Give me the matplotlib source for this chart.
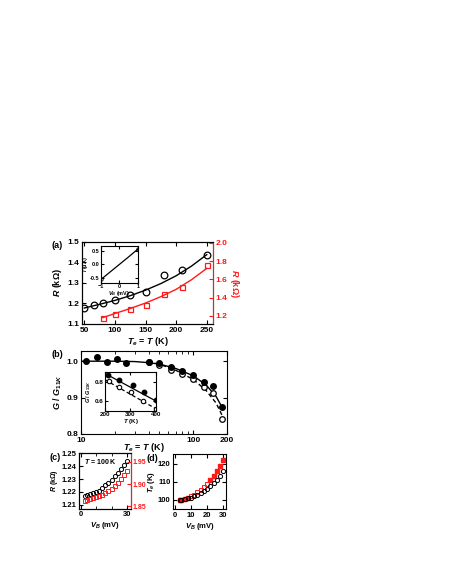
import matplotlib
matplotlib.use('Agg')
import matplotlib.pyplot as plt
from matplotlib.ticker import LogLocator, NullFormatter, FixedLocator

plt.rcParams['font.family'] = ['Liberation Sans', 'DejaVu Sans']
plt.rcParams['font.weight'] = 'bold'
plt.rcParams['axes.labelweight'] = 'bold'
plt.rcParams['mathtext.fontset'] = 'custom'
plt.rcParams['mathtext.rm'] = 'Liberation Sans:bold'
plt.rcParams['mathtext.it'] = 'Liberation Sans:italic:bold'
plt.rcParams['mathtext.bf'] = 'Liberation Sans:bold'
plt.rcParams['axes.linewidth'] = 0.8

RED = '#ff1a1a'

# (a) R vs T
a_T_black = [50, 65, 80, 100, 125, 150, 180, 210, 250]
a_R_black = [1.176, 1.192, 1.201, 1.218, 1.240, 1.257, 1.338, 1.362, 1.436]
a_fit_T_black = [50, 75, 100, 125, 150, 175, 200, 225, 250]
a_fit_R_black = [1.178, 1.196, 1.215, 1.238, 1.265, 1.297, 1.335, 1.382, 1.438]
a_T_red = [80, 100, 125, 150, 180, 210, 250]
a_R_red = [1.175, 1.222, 1.273, 1.320, 1.437, 1.520, 1.760]
a_fit_T_red = [80, 100, 125, 150, 175, 200, 225, 250]
a_fit_R_red = [1.180, 1.225, 1.280, 1.340, 1.410, 1.490, 1.595, 1.720]
# inset (a) I-V
ia_V = [-1.0, -0.5, 0.0, 0.5, 1.0]
ia_I = [-0.56, -0.28, 0.0, 0.28, 0.57]

# (b) G/G11K vs T
b_T_filled = [11, 14, 17, 21, 25, 40, 50, 63, 80, 100, 125, 150, 180]
b_G_filled = [1.000, 1.011, 0.999, 1.005, 0.995, 0.997, 0.994, 0.983, 0.972, 0.962, 0.943, 0.932, 0.875]
b_T_open = [40, 50, 63, 80, 100, 125, 150, 180]
b_G_open = [0.997, 0.990, 0.975, 0.964, 0.950, 0.928, 0.913, 0.840]
b_fit_T_solid = [10, 20, 30, 40, 50, 70, 100, 130, 160, 185]
b_fit_G_solid = [1.000, 1.000, 0.999, 0.996, 0.992, 0.980, 0.960, 0.935, 0.903, 0.868]
b_fit_T_dash = [40, 50, 70, 100, 130, 160, 185]
b_fit_G_dash = [0.998, 0.992, 0.975, 0.950, 0.920, 0.885, 0.845]
# inset (b)
ib_T_filled = [213, 256, 310, 353, 401]
ib_G_filled = [0.865, 0.814, 0.762, 0.694, 0.610]
ib_T_open = [216, 254, 303, 350, 401]
ib_G_open = [0.804, 0.746, 0.694, 0.600, 0.520]
ib_fit_T = [200, 400]
ib_fit_G_solid = [0.885, 0.600]
ib_fit_G_dash = [0.820, 0.520]

# (c) R vs V_B
c_V = [3, 4, 6, 8, 10, 12, 14, 16, 18, 20, 22, 24, 26, 28, 30]
c_R_black = [1.217, 1.2175, 1.218, 1.219, 1.220, 1.221, 1.223, 1.225, 1.227, 1.229, 1.232, 1.235, 1.238, 1.241, 1.244]
c_R_red = [1.863, 1.864, 1.866, 1.868, 1.870, 1.873, 1.876, 1.880, 1.885, 1.890, 1.896, 1.903, 1.911, 1.920, 1.930]

# (d) Te vs V_B
d_V = [3, 4, 6, 8, 10, 12, 14, 16, 18, 20, 22, 24, 26, 28, 30]
d_Te_black = [100.0, 100.1, 100.4, 100.8, 101.3, 102.0, 102.8, 103.8, 104.9, 106.2, 107.7, 109.4, 111.3, 113.5, 116.0]
d_Te_red = [100.0, 100.2, 100.6, 101.2, 102.0, 103.0, 104.2, 105.6, 107.2, 109.0, 111.0, 113.3, 115.8, 118.8, 122.0]
d_V_red_filled = [3, 4, 6, 8, 22, 24, 26, 28, 30]
d_Te_red_filled = [100.0, 100.2, 100.6, 101.2, 111.0, 113.3, 115.8, 118.8, 122.0]

fig = plt.figure(figsize=(4.5, 5.82), dpi=100)

def style(ax, size=6, right=True):
    ax.tick_params(direction='in', top=True, right=right, length=3, width=0.8,
                   labelsize=size, pad=2)
    for lab in ax.get_xticklabels() + ax.get_yticklabels():
        lab.set_fontweight('bold')

# ---- panel (a)
ax = fig.add_axes([0.182, 0.4433, 0.291, 0.141])
ax.plot(a_fit_T_black, a_fit_R_black, color='black', lw=1.0)
ax.plot(a_T_black, a_R_black, 'o', mfc='none', mec='black', ms=4.8, mew=0.9)
ax.set_xlim(46, 260)
ax.set_ylim(1.1, 1.5)
ax.set_xticks([50, 100, 150, 200, 250])
ax.set_yticks([1.1, 1.2, 1.3, 1.4, 1.5])
style(ax, right=False)
ax.set_ylabel('$R$ (kΩ)', fontsize=6.5, labelpad=2)
ax.set_xlabel('$T_e$ = $T$ (K)', fontsize=6.5, labelpad=1)
ax2 = ax.twinx()
ax2.plot(a_fit_T_red, a_fit_R_red, color=RED, lw=1.0)
ax2.plot(a_T_red, a_R_red, 's', mfc='none', mec=RED, ms=3.6, mew=0.9)
ax2.set_ylim(1.11, 2.01)
ax2.set_yticks([1.2, 1.4, 1.6, 1.8, 2.0])
ax2.tick_params(axis='y', direction='in', colors=RED, length=3, labelsize=6, pad=2)
ax2.spines['right'].set_color(RED)
ax2.set_ylabel('$R$ (kΩ)', fontsize=6.5, color=RED, rotation=-90, labelpad=10)
fig.text(0.115, 0.574, '(a)', fontsize=6.5, fontweight='bold')

ins = fig.add_axes([0.2244, 0.5143, 0.0822, 0.063])
ins.plot(ia_V, ia_I, color='black', lw=0.9, marker='o', mfc='none', ms=2.5,
         mew=0.6, markevery=[0, len(ia_V) - 1])
ins.set_xlim(-1.0, 1.0)
ins.set_ylim(-0.68, 0.68)
ins.set_xticks([-1, 0, 1])
ins.set_yticks([-0.5, 0.0, 0.5])
ins.set_yticklabels(['-0.5', '0.0', '0.5'])
style(ins, size=4)
ins.tick_params(length=2, pad=1)
ins.set_xlabel('$V_B$ (mV)', fontsize=4, labelpad=0)
ins.set_ylabel('$I$ (μA)', fontsize=4, labelpad=0)

# ---- panel (b)
bx = fig.add_axes([0.18, 0.2543, 0.3244, 0.1426])
bx.plot(b_fit_T_solid, b_fit_G_solid, color='black', lw=1.0)
bx.plot(b_fit_T_dash, b_fit_G_dash, color='black', lw=1.0, ls=(0, (3, 2)))
bx.plot(b_T_open, b_G_open, 'o', mfc='white', mec='black', ms=4, mew=0.9)
bx.plot(b_T_filled, b_G_filled, 'o', color='black', ms=4)
bx.set_xscale('log')
bx.set_xlim(10, 200)
bx.set_ylim(0.8, 1.028)
bx.xaxis.set_major_locator(FixedLocator([10, 100, 200]))
bx.set_xticklabels(['10', '100', '200'])
bx.xaxis.set_minor_locator(LogLocator(base=10, subs=range(2, 10)))
bx.xaxis.set_minor_formatter(NullFormatter())
bx.set_yticks([0.8, 0.9, 1.0])
style(bx)
bx.tick_params(which='minor', direction='in', top=True, length=2)
bx.set_ylabel('$G$ / $G_{11K}$', fontsize=6.5, labelpad=2)
bx.set_xlabel('$T_e$ = $T$ (K)', fontsize=6.5, labelpad=1)
bx.xaxis.set_label_coords(0.43, -0.08)
fig.text(0.115, 0.386, '(b)', fontsize=6.5, fontweight='bold')

ib = fig.add_axes([0.2333, 0.2943, 0.1133, 0.0665])
ib.plot(ib_fit_T, ib_fit_G_solid, color='black', lw=0.9)
ib.plot(ib_fit_T, ib_fit_G_dash, color='black', lw=0.9, ls=(0, (3, 2)))
ib.plot(ib_T_open, ib_G_open, 'o', mfc='white', mec='black', ms=3.2, mew=0.8)
ib.plot(ib_T_filled, ib_G_filled, 'o', color='black', ms=3.2)
ib.set_xlim(200, 400)
ib.set_ylim(0.5, 0.9)
ib.set_xticks([200, 300, 400])
ib.set_yticks([0.6, 0.8])
style(ib, size=4.5)
ib.tick_params(length=2, pad=1)
ib.set_xlabel('$T$ (K)', fontsize=4.5, labelpad=0)
ib.set_ylabel('$G$ / $G_{11K}$', fontsize=4, labelpad=1)

# ---- panel (c)
cx = fig.add_axes([0.1762, 0.126, 0.1142, 0.0952])
cx.plot(c_V, c_R_black, 'o', mfc='none', mec='black', ms=3, mew=0.7)
cx.set_xlim(-1, 32.5)
cx.set_ylim(1.207, 1.25)
cx.set_xticks([0, 30])
cx.set_xticks([10, 20], minor=True)
cx.set_yticks([1.21, 1.22, 1.23, 1.24, 1.25])
style(cx, size=5.5, right=False)
cx.tick_params(which='minor', direction='in', top=True, length=2)
cx.set_ylabel('$R$ (kΩ)', fontsize=5, labelpad=1)
cx.set_xlabel('$V_B$ (mV)', fontsize=5.5, labelpad=1)
cx.text(0.1, 0.8, '$T$ = 100 K', transform=cx.transAxes, fontsize=5)
cx2 = cx.twinx()
cx2.plot(c_V, c_R_red, 's', mfc='none', mec=RED, ms=2.8, mew=0.7)
cx2.set_ylim(1.845, 1.969)
cx2.set_yticks([1.85, 1.90, 1.95])
cx2.tick_params(axis='y', direction='in', colors=RED, length=3, labelsize=5, pad=1.5)
cx2.spines['right'].set_color(RED)
fig.text(0.111, 0.209, '(c)', fontsize=6.5, fontweight='bold')

# ---- panel (d)
dx = fig.add_axes([0.3851, 0.1246, 0.1171, 0.0954])
dx.plot(d_V, d_Te_red, 's', mfc='none', mec=RED, ms=2.8, mew=0.7)
dx.plot(d_V_red_filled, d_Te_red_filled, 's', color=RED, ms=2.8)
dx.plot(d_V, d_Te_black, 'o', mfc='none', mec='black', ms=3, mew=0.7)
dx.set_xlim(-1, 31.7)
dx.set_ylim(94.7, 125.5)
dx.set_xticks([0, 10, 20, 30])
dx.set_yticks([100, 110, 120])
style(dx, size=5.5)
dx.set_ylabel('$T_e$ (K)', fontsize=5.5, labelpad=0.5)
dx.set_xlabel('$V_B$ (mV)', fontsize=5.5, labelpad=1)
fig.text(0.325, 0.208, '(d)', fontsize=6.5, fontweight='bold')

fig.savefig('out.png', dpi=100)
